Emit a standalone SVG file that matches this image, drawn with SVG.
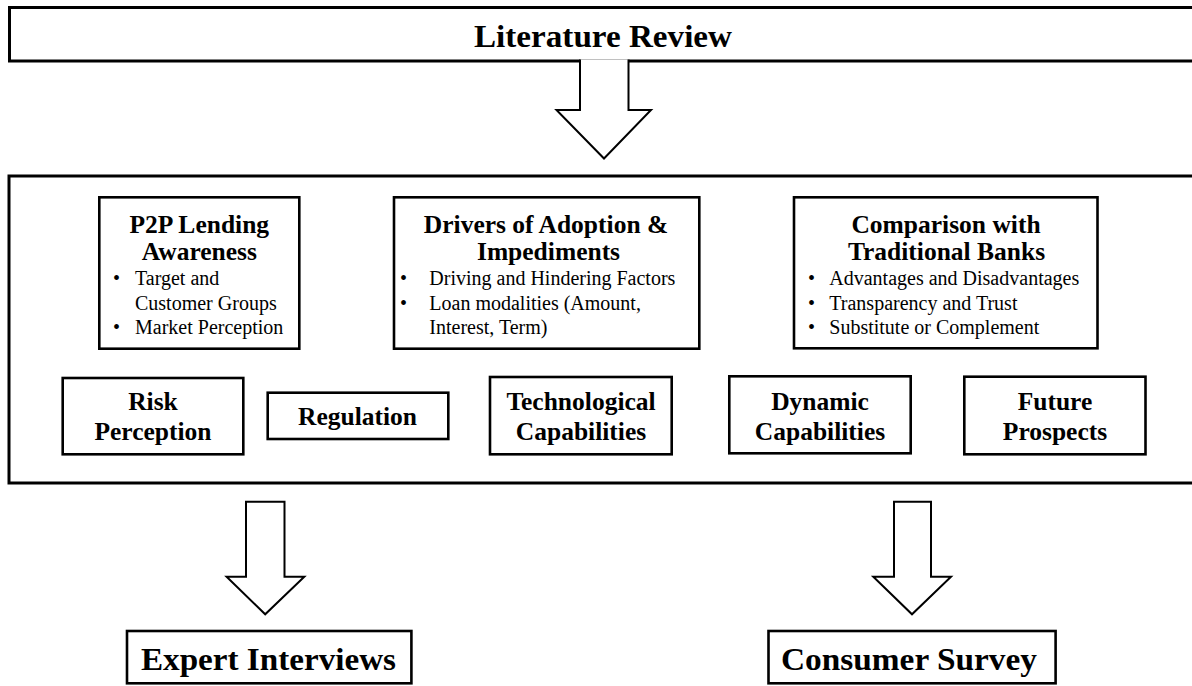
<svg xmlns="http://www.w3.org/2000/svg" width="1192" height="686" viewBox="0 0 1192 686">
<style>
.box{fill:#fff;stroke:#000;stroke-width:2.6}
.outer{fill:#fff;stroke:#000;stroke-width:3}
.arrow{fill:#fff;stroke:#000;stroke-width:2;stroke-linejoin:miter}
.t{font-family:"Liberation Serif","Times New Roman",serif;fill:#000}
.h{font-weight:bold;font-size:25.5px;text-anchor:middle}
.big{font-weight:bold;font-size:31px;text-anchor:middle}
.b{font-size:20px}
</style>
<rect width="1192" height="686" fill="#fff"/>
<g id="literature-review">
<rect class="outer" x="9.5" y="7.5" width="1200" height="53.5"/>
<text class="t big" x="603" y="47" textLength="258" lengthAdjust="spacingAndGlyphs">Literature Review</text>
</g>
<g id="framework">
<rect class="outer" x="9" y="176" width="1200" height="307"/>
</g>
<g id="p2p-awareness">
<rect class="box" x="99.3" y="197.3" width="200" height="151.4"/>
<text class="t h" x="199.3" y="232.5">P2P Lending</text>
<text class="t h" x="199.3" y="260">Awareness</text>
<text class="t b" x="113" y="285">•</text>
<text class="t b" x="135" y="285">Target and</text>
<text class="t b" x="135" y="309.5">Customer Groups</text>
<text class="t b" x="113" y="334">•</text>
<text class="t b" x="135" y="334">Market Perception</text>
</g>
<g id="drivers">
<rect class="box" x="394" y="197.3" width="305.3" height="151.4"/>
<text class="t h" x="546" y="232.5">Drivers of Adoption &amp;</text>
<text class="t h" x="548.5" y="260">Impediments</text>
<text class="t b" x="400" y="285">•</text>
<text class="t b" x="429.3" y="285">Driving and Hindering Factors</text>
<text class="t b" x="400" y="309.5">•</text>
<text class="t b" x="429.3" y="309.5">Loan modalities (Amount,</text>
<text class="t b" x="429.3" y="334">Interest, Term)</text>
</g>
<g id="comparison">
<rect class="box" x="794" y="197.3" width="303.5" height="151"/>
<text class="t h" x="946" y="232.5">Comparison with</text>
<text class="t h" x="946.5" y="260">Traditional Banks</text>
<text class="t b" x="808" y="285">•</text>
<text class="t b" x="829.3" y="285">Advantages and Disadvantages</text>
<text class="t b" x="808" y="309.5">•</text>
<text class="t b" x="829.3" y="309.5">Transparency and Trust</text>
<text class="t b" x="808" y="334">•</text>
<text class="t b" x="829.3" y="334">Substitute or Complement</text>
</g>
<g id="risk-perception">
<rect class="box" x="62.7" y="378" width="180.6" height="76.3"/>
<text class="t h" x="153" y="410">Risk</text>
<text class="t h" x="153" y="440">Perception</text>
</g>
<g id="regulation">
<rect class="box" x="267.7" y="392.7" width="180.6" height="46.3"/>
<text class="t h" x="357.5" y="424.5">Regulation</text>
</g>
<g id="technological-capabilities">
<rect class="box" x="490" y="377" width="181.7" height="77.3"/>
<text class="t h" x="581" y="410">Technological</text>
<text class="t h" x="581" y="440">Capabilities</text>
</g>
<g id="dynamic-capabilities">
<rect class="box" x="729.3" y="376.3" width="181.4" height="77"/>
<text class="t h" x="820" y="410">Dynamic</text>
<text class="t h" x="820" y="440">Capabilities</text>
</g>
<g id="future-prospects">
<rect class="box" x="964.3" y="376.7" width="181.2" height="77.6"/>
<text class="t h" x="1055" y="410">Future</text>
<text class="t h" x="1055" y="440">Prospects</text>
</g>
<g id="expert-interviews">
<rect class="box" x="127" y="631" width="284.4" height="52.3"/>
<text class="t big" x="268.5" y="670" textLength="255" lengthAdjust="spacingAndGlyphs">Expert Interviews</text>
</g>
<g id="consumer-survey">
<rect class="box" x="768.5" y="631" width="287.1" height="52.3"/>
<text class="t big" x="909" y="670" textLength="256" lengthAdjust="spacingAndGlyphs">Consumer Survey</text>
</g>
<g id="connectors">
<path class="arrow" d="M580,59.5 V110 H556.5 L604,158.5 L651,110 H628.5 V59.5"/>
<path class="arrow" d="M246,501.7 H284.5 V576.7 H304.3 L265.2,614.3 L226.6,576.7 H246 Z"/>
<path class="arrow" d="M894,501.7 H931 V576.7 H951 L912,614.3 L873.3,576.7 H894 Z"/>
</g>
</svg>
